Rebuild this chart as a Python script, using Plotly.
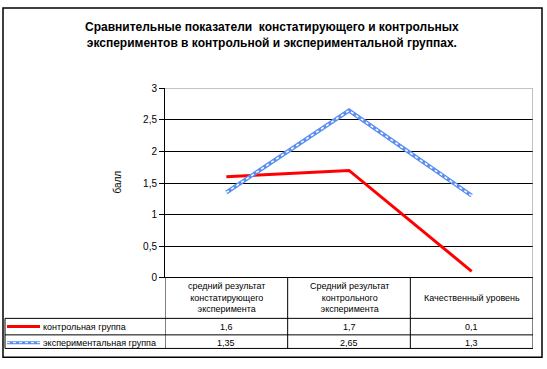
import plotly.graph_objects as go

categories = ["средний результат<br>констатирующего<br>эксперимента",
              "Средний результат<br>контрольного<br>эксперимента",
              "Качественный уровень"]
series_names = ["контрольная группа", "экспериментальная группа"]
control = [1.6, 1.7, 0.1]
experimental = [1.35, 2.65, 1.3]
y_ticks = [0, 0.5, 1, 1.5, 2, 2.5, 3]
title_text = "Сравнительные показатели  констатирующего и контрольных<br>экспериментов в контрольной и экспериментальной группах."
y_title = "балл"

W, H = 547, 369
FONT = "Liberation Sans, Arial, sans-serif"

def px(x):
    return x / W

def py(y):
    return 1 - y / H

xpos = [i + 0.5 for i in range(len(categories))]

fig = go.Figure()
fig.add_trace(go.Scatter(x=xpos, y=control, mode="lines", name=series_names[0],
                         line=dict(color="#ff0000", width=3), hoverinfo="skip"))
fig.add_trace(go.Scatter(x=xpos, y=experimental, mode="lines", name=series_names[1],
                         line=dict(color="#5a8ff0", width=4), hoverinfo="skip"))
fig.add_trace(go.Scatter(x=xpos, y=experimental, mode="lines", showlegend=False,
                         line=dict(color="#ffffff", width=1.5, dash="dot"), hoverinfo="skip"))

plot_left, plot_right, plot_top, plot_bottom = 165, 533, 86, 281
row1, row2, row3 = 323, 340, 354
ytext1, ytext2 = 331.5, 348

shapes = []
shapes.append(dict(type="line", xref="x", yref="y", x0=0, x1=3, y0=3, y1=3,
                   line=dict(color="#808080", width=1)))
shapes.append(dict(type="line", xref="x", yref="y", x0=3, x1=3, y0=0, y1=3,
                   line=dict(color="#808080", width=1)))
for i in range(len(categories) + 1):
    shapes.append(dict(type="line", xref="x", yref="paper", x0=i, x1=i,
                       y0=py(row3), y1=py(plot_bottom), line=dict(color="black", width=1)))
for r in (row1, row2, row3):
    shapes.append(dict(type="line", xref="paper", yref="paper", x0=px(5), x1=px(plot_right),
                       y0=py(r), y1=py(r), line=dict(color="black", width=1)))
shapes.append(dict(type="line", xref="paper", yref="paper", x0=px(5), x1=px(5),
                   y0=py(row3), y1=py(row1), line=dict(color="black", width=1)))
shapes.append(dict(type="line", xref="paper", yref="paper", x0=px(7), x1=px(40),
                   y0=py(ytext1), y1=py(ytext1), line=dict(color="#ff0000", width=3)))
shapes.append(dict(type="line", xref="paper", yref="paper", x0=px(7), x1=px(40),
                   y0=py(ytext2), y1=py(ytext2), line=dict(color="#5a8ff0", width=3)))
shapes.append(dict(type="line", xref="paper", yref="paper", x0=px(7), x1=px(40),
                   y0=py(ytext2), y1=py(ytext2), line=dict(color="#ffffff", width=1, dash="dot")))
shapes.append(dict(type="rect", xref="paper", yref="paper", x0=px(3), x1=px(542),
                   y0=py(363), y1=py(3), line=dict(color="black", width=1.5)))

annotations = []
annotations.append(dict(text="<b>" + title_text + "</b>", xref="paper", yref="paper",
                        x=px(272), y=py(31), showarrow=False, xanchor="center", yanchor="middle",
                        font=dict(family=FONT, size=12, color="black")))
annotations.append(dict(text=y_title, xref="paper", yref="paper", x=px(118), y=py(183),
                        showarrow=False, textangle=-90, xanchor="center", yanchor="middle",
                        font=dict(family=FONT, size=10, color="black")))
for i, c in enumerate(categories):
    annotations.append(dict(text=c, xref="x", yref="paper", x=xpos[i], y=py(302),
                            showarrow=False, xanchor="center", yanchor="middle",
                            font=dict(family=FONT, size=9, color="black")))
    annotations.append(dict(text=str(control[i]).replace(".", ","), xref="x", yref="paper",
                            x=xpos[i], y=py(ytext1), showarrow=False, xanchor="center",
                            yanchor="middle", font=dict(family=FONT, size=9, color="black")))
    annotations.append(dict(text=str(experimental[i]).replace(".", ","), xref="x", yref="paper",
                            x=xpos[i], y=py(ytext2), showarrow=False, xanchor="center",
                            yanchor="middle", font=dict(family=FONT, size=9, color="black")))
for name, yy in zip(series_names, (ytext1, ytext2)):
    annotations.append(dict(text=name, xref="paper", yref="paper", x=px(41), y=py(yy),
                            xanchor="left", yanchor="middle", showarrow=False,
                            font=dict(family=FONT, size=9, color="black")))

fig.update_layout(
    width=W, height=H, margin=dict(l=0, r=0, t=0, b=0, pad=0),
    paper_bgcolor="white", plot_bgcolor="white", showlegend=False,
    separators=", ",
    xaxis=dict(domain=[px(plot_left), px(plot_right)], range=[0, 3], showgrid=False,
               zeroline=False, showticklabels=False, ticks="", showline=False, fixedrange=True),
    yaxis=dict(domain=[py(plot_bottom), py(plot_top)], range=[0, 3], tickvals=y_ticks,
               ticktext=[str(v).replace(".", ",") if v % 1 else str(int(v)) for v in y_ticks],
               showgrid=True, gridcolor="black", gridwidth=1, zeroline=True, zerolinecolor="black",
               zerolinewidth=1, showline=True, linecolor="black", linewidth=1,
               ticks="outside", ticklen=5, tickcolor="black",
               tickfont=dict(family=FONT, size=10, color="black"), fixedrange=True),
    shapes=shapes, annotations=annotations,
)

fig.write_html("out.html", config={"displayModeBar": False},
               post_script="document.body.style.margin='0';document.body.style.overflow='hidden';")
